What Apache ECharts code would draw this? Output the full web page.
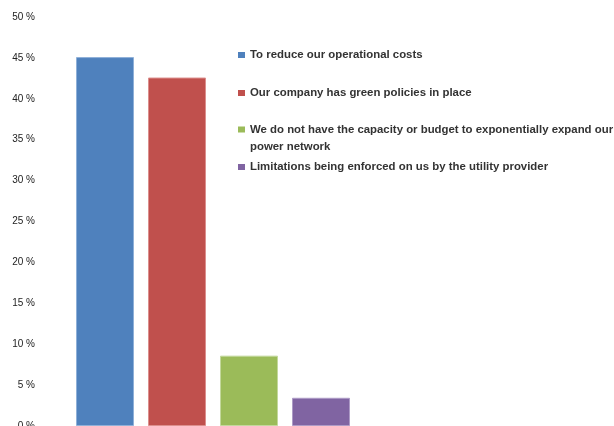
<!DOCTYPE html>
<html>
<head>
<meta charset="utf-8">
<script src="https://cdn.jsdelivr.net/npm/echarts@6/dist/echarts.min.js"></script>
<style>
  html, body { margin: 0; padding: 0; background: #ffffff; }
  #chart { width: 614px; height: 426px; }
</style>
</head>
<body>
<div id="chart"></div>
<script>
// Reasons given (share of respondents, %)
const categories = [
  'To reduce our operational costs',
  'Our company has green policies in place',
  'We do not have the capacity or budget to exponentially expand our power network',
  'Limitations being enforced on us by the utility provider'
];
const values = [45.1, 42.6, 8.6, 3.45];
const colors = ['#4F81BD', '#C0504D', '#9BBB59', '#8064A2'];
const edgeColors = ['#8fb0d8', '#dc8f8d', '#c3d89c', '#ad9bc6'];
const yTicks = { min: 0, max: 50, interval: 5 };

// One series per reason, each holding a value only in its own column
const series = categories.map((name, i) => ({
  name: name,
  type: 'bar',
  stack: 'all',
  barWidth: 58,
  data: categories.map((_, j) => (j === i ? values[i] : '-')),
  itemStyle: { color: colors[i], borderColor: edgeColors[i], borderWidth: 1 },
  emphasis: { disabled: true }
}));

// Legend rows placed individually at the right of the bars
const legendTops = [48, 86, 104, 160];
const legendText = {
  fontFamily: 'Liberation Sans, Arial, sans-serif',
  fontSize: 11.4,
  fontWeight: 'bold',
  color: '#333333',
  lineHeight: 14
};
const legends = categories.map((name, i) => {
  const style = Object.assign({}, legendText);
  let formatter = null;
  if (i === 2) {
    // wrapped entry: keep the swatch level with the first line
    style.lineHeight = 17;
    style.width = 372;
    style.overflow = 'break';
    formatter = (n) => ' \n' + n;
  }
  const lg = {
    data: [name],
    left: 238,
    top: legendTops[i],
    orient: 'vertical',
    padding: 0,
    itemWidth: 7,
    itemHeight: 6,
    itemGap: 0,
    icon: 'rect',
    selectedMode: false,
    itemStyle: { borderWidth: 0 },
    textStyle: style
  };
  if (formatter) lg.formatter = formatter;
  return lg;
});

const chart = echarts.init(document.getElementById('chart'), null, { renderer: 'canvas' });
chart.setOption({
  animation: false,
  backgroundColor: '#ffffff',
  color: colors,
  legend: legends,
  grid: { left: 69, right: 257, top: 17, bottom: 0, containLabel: false, outerBoundsMode: 'none' },
  xAxis: {
    type: 'category',
    data: categories,
    axisLine: { show: false },
    axisTick: { show: false },
    axisLabel: { show: false },
    splitLine: { show: false }
  },
  yAxis: {
    type: 'value',
    min: yTicks.min,
    max: yTicks.max,
    interval: yTicks.interval,
    axisLine: { show: false },
    axisTick: { show: false },
    splitLine: { show: false },
    axisLabel: {
      formatter: '{value} %',
      margin: 34,
      fontFamily: 'Liberation Sans, Arial, sans-serif',
      fontSize: 10,
      color: '#222222'
    }
  },
  series: series
});
</script>
</body>
</html>
